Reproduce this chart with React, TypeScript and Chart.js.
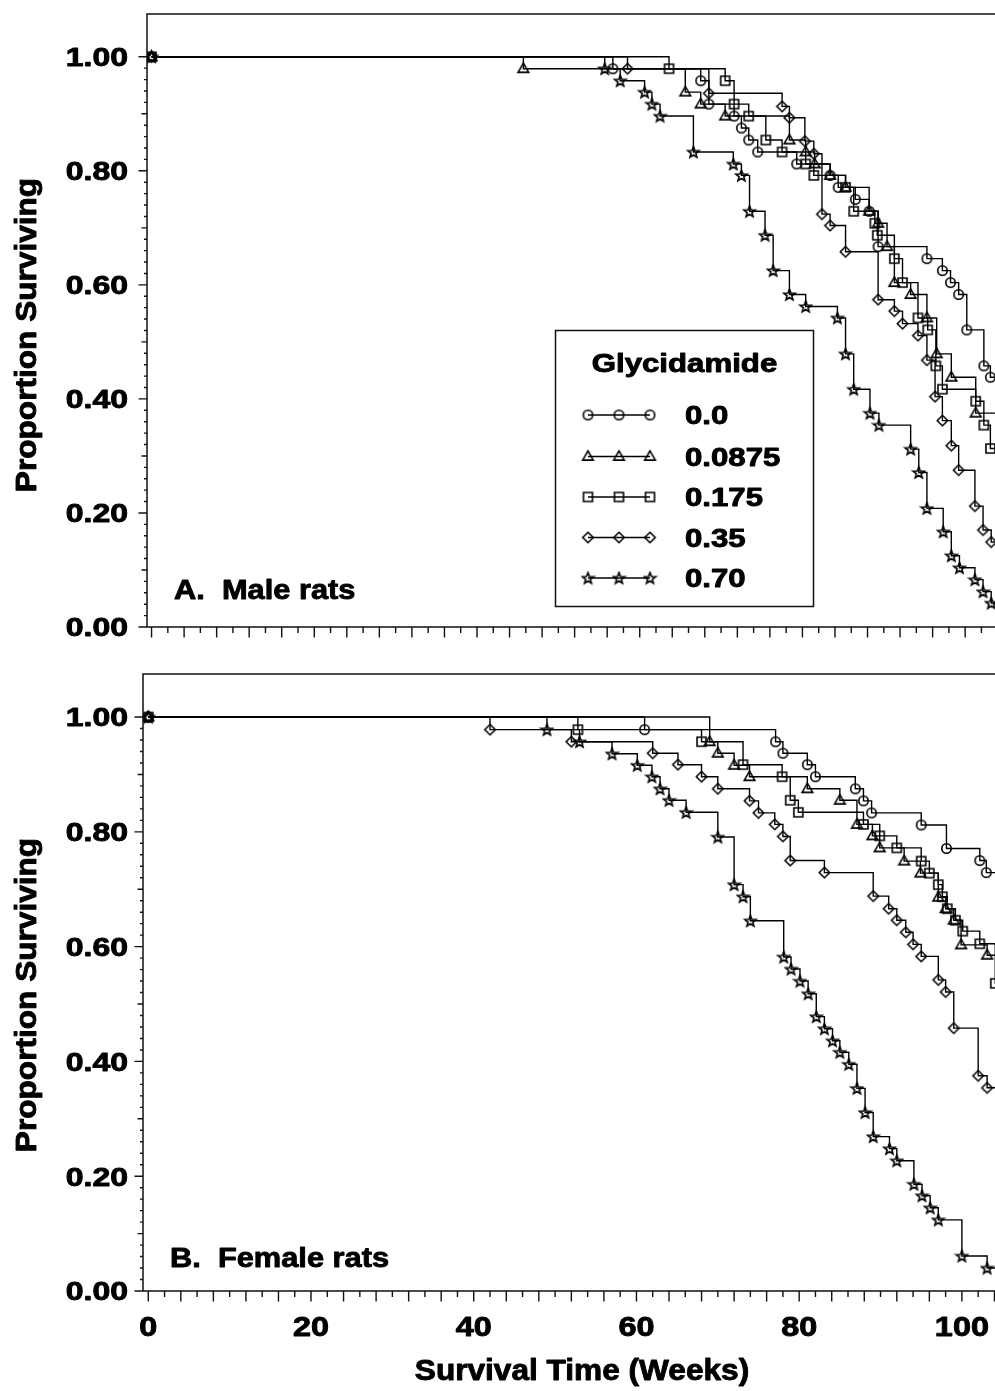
import React, { useEffect, useRef } from 'react';
import { Chart, registerables } from 'chart.js';

Chart.register(...registerables);

// ---------------- data ----------------
const xTickValues = [0, 20, 40, 60, 80, 100];
const yTickValues = [0, 0.2, 0.4, 0.6, 0.8, 1.0];
const doseLabels = ['0.0', '0.0875', '0.175', '0.35', '0.70'];
const markerKinds = ['circle', 'triangle', 'square', 'diamond', 'star'];
const legendTitle = 'Glycidamide';
const xAxisTitle = 'Survival Time (Weeks)';
const yAxisTitle = 'Proportion Surviving';
const maleLabel = 'A.  Male rats';
const femaleLabel = 'B.  Female rats';
const studyEnd = 106.5;

// Male rats (panel A)
const maleT_00 = [0, 56.7, 67.5, 68.5, 71.6, 72.5, 73.4, 74.5, 79.3, 83.4, 84.4, 86.5, 88.2, 89.3, 95.3, 97.2, 98.2, 99.2, 100.2, 102.3, 103.1];
const maleS_00 = [1, 0.979, 0.958, 0.917, 0.896, 0.875, 0.854, 0.833, 0.812, 0.792, 0.771, 0.75, 0.729, 0.667, 0.646, 0.625, 0.604, 0.583, 0.521, 0.458, 0.438];

const maleT_0875 = [0, 45.7, 65.6, 67.5, 70.5, 78.4, 80.4, 81.5, 83.4, 85.3, 88.2, 89.3, 90.4, 91.3, 93.3, 95.3, 96.5, 98.3, 101.3];
const maleS_0875 = [1, 0.979, 0.938, 0.917, 0.896, 0.854, 0.833, 0.812, 0.792, 0.771, 0.729, 0.708, 0.667, 0.604, 0.583, 0.542, 0.479, 0.438, 0.375];

const maleT_175 = [0, 63.6, 70.5, 71.6, 73.4, 75.5, 77.5, 80.4, 81.4, 85.3, 86.3, 88.9, 89.2, 91.3, 92.3, 94.2, 95.4, 96.4, 97.2, 101.3, 102.3, 103.1];
const maleS_175 = [1, 0.979, 0.958, 0.917, 0.896, 0.854, 0.833, 0.812, 0.792, 0.771, 0.729, 0.708, 0.687, 0.646, 0.604, 0.542, 0.521, 0.458, 0.417, 0.396, 0.354, 0.313];

const maleT_35 = [0, 58.5, 68.5, 77.5, 78.4, 80.3, 81.4, 82.4, 83.4, 85.3, 89.3, 91.3, 92.3, 94.2, 95.3, 96.3, 97.2, 98.3, 99.2, 101.2, 102.2, 103.2];
const maleS_35 = [1, 0.979, 0.936, 0.913, 0.893, 0.852, 0.83, 0.724, 0.704, 0.658, 0.574, 0.554, 0.532, 0.511, 0.468, 0.404, 0.362, 0.318, 0.275, 0.212, 0.17, 0.149];

const maleT_70 = [0, 55.7, 57.6, 60.6, 61.5, 62.5, 66.6, 71.5, 72.5, 73.5, 75.4, 76.4, 78.4, 80.4, 84.3, 85.3, 86.3, 88.3, 89.4, 93.3, 94.3, 95.3, 97.3, 98.3, 99.3, 101.2, 102.2, 103.2];
const maleS_70 = [1, 0.979, 0.958, 0.938, 0.917, 0.896, 0.833, 0.812, 0.792, 0.729, 0.687, 0.625, 0.583, 0.562, 0.542, 0.479, 0.417, 0.375, 0.354, 0.312, 0.271, 0.208, 0.167, 0.125, 0.104, 0.083, 0.062, 0.042];

// Female rats (panel B)
const femT_00 = [0, 61.0, 77.1, 78.0, 81.0, 82.0, 86.9, 87.9, 88.9, 95.0, 98.1, 102.2, 103.0];
const femS_00 = [1, 0.978, 0.957, 0.937, 0.917, 0.896, 0.875, 0.854, 0.833, 0.812, 0.771, 0.75, 0.729];

const femT_0875 = [0, 69.0, 70.0, 72.0, 73.9, 81.0, 85.0, 87.1, 89.0, 89.9, 92.9, 94.9, 97.1, 98.0, 99.0, 99.9, 103.1];
const femS_0875 = [1, 0.957, 0.937, 0.916, 0.896, 0.875, 0.855, 0.813, 0.793, 0.772, 0.749, 0.728, 0.686, 0.666, 0.646, 0.603, 0.585];

const femT_175 = [0, 52.8, 68.0, 73.1, 77.9, 78.9, 79.9, 87.9, 89.9, 92.0, 95.0, 96.0, 97.1, 97.6, 98.2, 99.2, 100.1, 102.2, 104.1];
const femS_175 = [1, 0.978, 0.957, 0.917, 0.896, 0.855, 0.834, 0.813, 0.793, 0.772, 0.749, 0.728, 0.708, 0.687, 0.666, 0.646, 0.627, 0.605, 0.536];

const femT_35 = [0, 42.0, 52.0, 62.0, 65.1, 68.0, 70.0, 73.9, 75.0, 77.0, 78.0, 78.9, 83.1, 89.1, 91.0, 92.0, 93.1, 94.0, 95.0, 97.1, 98.0, 99.0, 102.0, 103.1];
const femS_35 = [1, 0.978, 0.957, 0.937, 0.917, 0.896, 0.875, 0.854, 0.833, 0.813, 0.792, 0.75, 0.729, 0.688, 0.666, 0.646, 0.625, 0.604, 0.583, 0.542, 0.521, 0.458, 0.375, 0.354];

const femT_70 = [0, 49.0, 53.0, 57.0, 60.1, 61.9, 62.9, 64.0, 66.1, 70.0, 72.0, 73.1, 74.0, 78.1, 79.0, 80.1, 81.1, 82.1, 83.1, 84.1, 85.0, 86.1, 87.1, 88.1, 89.1, 91.1, 92.0, 94.1, 95.1, 96.1, 97.1, 100.0, 103.1];
const femS_70 = [1, 0.978, 0.957, 0.936, 0.916, 0.896, 0.875, 0.855, 0.834, 0.791, 0.708, 0.687, 0.645, 0.582, 0.561, 0.54, 0.518, 0.478, 0.457, 0.436, 0.416, 0.395, 0.353, 0.311, 0.269, 0.248, 0.227, 0.186, 0.166, 0.145, 0.124, 0.061, 0.04];

const maleTimes = [maleT_00, maleT_0875, maleT_175, maleT_35, maleT_70];
const maleSurv = [maleS_00, maleS_0875, maleS_175, maleS_35, maleS_70];
const femTimes = [femT_00, femT_0875, femT_175, femT_35, femT_70];
const femSurv = [femS_00, femS_0875, femS_175, femS_35, femS_70];

// ---------------- drawing helpers ----------------
const FONT = '"Liberation Sans", Arial, Helvetica, sans-serif';

function makeMarker(kind: string): HTMLCanvasElement {
  const c = document.createElement('canvas');
  c.width = 15;
  c.height = 15;
  const g = c.getContext('2d') as CanvasRenderingContext2D;
  g.strokeStyle = '#000';
  g.lineWidth = 1.6;
  const cx = 7.5;
  const cy = 7.5;
  g.beginPath();
  if (kind === 'circle') {
    g.arc(cx, cy, 4.7, 0, Math.PI * 2);
  } else if (kind === 'triangle') {
    g.moveTo(cx, cy - 5.6);
    g.lineTo(cx + 5.3, cy + 3.6);
    g.lineTo(cx - 5.3, cy + 3.6);
    g.closePath();
  } else if (kind === 'square') {
    g.rect(cx - 4.5, cy - 4.5, 9, 9);
  } else if (kind === 'diamond') {
    g.moveTo(cx, cy - 5.2);
    g.lineTo(cx + 5.2, cy);
    g.lineTo(cx, cy + 5.2);
    g.lineTo(cx - 5.2, cy);
    g.closePath();
  } else {
    for (let i = 0; i < 10; i++) {
      const r = i % 2 === 0 ? 5.9 : 2.5;
      const a = -Math.PI / 2 + (i * Math.PI) / 5;
      const px = cx + r * Math.cos(a);
      const py = cy + 0.5 + r * Math.sin(a);
      if (i === 0) g.moveTo(px, py);
      else g.lineTo(px, py);
    }
    g.closePath();
  }
  g.stroke();
  return c;
}

function txt(
  ctx: CanvasRenderingContext2D,
  s: string,
  x: number,
  y: number,
  size: number,
  sx: number,
  align: CanvasTextAlign,
  rot = 0
) {
  ctx.save();
  ctx.translate(x, y);
  if (rot) ctx.rotate(rot);
  ctx.scale(sx, 1);
  ctx.font = `bold ${size}px ${FONT}`;
  ctx.fillStyle = '#000';
  ctx.strokeStyle = '#000';
  ctx.lineWidth = 0.9;
  ctx.lineJoin = 'round';
  ctx.textAlign = align;
  ctx.textBaseline = 'alphabetic';
  ctx.fillText(s, 0, 0);
  ctx.strokeText(s, 0, 0);
  ctx.restore();
}

function makeDecor(isTop: boolean, markers: HTMLCanvasElement[]) {
  return {
    id: 'decor' + (isTop ? 'Top' : 'Bottom'),
    afterDraw(chart: any) {
      const ctx: CanvasRenderingContext2D = chart.ctx;
      const { left: L, right: R, top: T, bottom: B } = chart.chartArea;
      const xs = chart.scales.x;
      const ys = chart.scales.y;
      ctx.save();
      ctx.strokeStyle = '#111';
      ctx.lineWidth = 1.5;
      // frame
      ctx.beginPath();
      ctx.moveTo(L, B);
      ctx.lineTo(L, T);
      ctx.lineTo(R, T);
      ctx.lineTo(R, B);
      ctx.lineTo(L, B);
      ctx.stroke();
      // x ticks (every 2 weeks, longer every 4)
      ctx.lineWidth = 1.4;
      ctx.beginPath();
      for (let w = 0; w <= xs.max; w += 2) {
        const px = xs.getPixelForValue(w);
        if (px > R) break;
        const len = w % 4 === 0 ? 10.5 : 6;
        ctx.moveTo(px, B);
        ctx.lineTo(px, B + len);
      }
      // y ticks (every 0.02)
      for (let i = 0; i <= 50; i++) {
        const py = ys.getPixelForValue(i / 50);
        const len = i % 10 === 0 ? 8.5 : i % 5 === 0 ? 5.5 : 3;
        ctx.moveTo(L, py);
        ctx.lineTo(L - len, py);
      }
      ctx.stroke();
      ctx.restore();

      // y tick labels
      yTickValues.forEach((v) => {
        const py = ys.getPixelForValue(v);
        txt(ctx, v.toFixed(2), 128, py + 9.3, 26, 1.23, 'right');
      });
      // y axis title
      txt(ctx, yAxisTitle, 35.8, 335, 29, 1.09, 'center', -Math.PI / 2);

      if (isTop) {
        txt(ctx, maleLabel, 174, 598.5, 28, 1.1, 'left');
        // legend
        ctx.save();
        ctx.fillStyle = '#fff';
        ctx.fillRect(555.5, 330.5, 258, 276);
        ctx.strokeStyle = '#111';
        ctx.lineWidth = 1.5;
        ctx.strokeRect(555.5, 330.5, 258, 276);
        ctx.restore();
        txt(ctx, legendTitle, 684.5, 372, 26, 1.2, 'center');
        const centers = [415, 456.5, 497, 537.5, 578];
        doseLabels.forEach((lab, i) => {
          const cy = centers[i];
          ctx.save();
          ctx.strokeStyle = '#000';
          ctx.lineWidth = 1.4;
          ctx.beginPath();
          ctx.moveTo(588, cy);
          ctx.lineTo(650, cy);
          ctx.stroke();
          [588, 619, 650].forEach((mx) => ctx.drawImage(markers[i], mx - 7.5, cy - 7.5));
          ctx.restore();
          txt(ctx, lab, 685, cy + 9.3, 26, 1.2, 'left');
        });
      } else {
        txt(ctx, femaleLabel, 170, 606.7, 28, 1.1, 'left');
        xTickValues.forEach((v) => {
          const px = xs.getPixelForValue(v);
          txt(ctx, String(v), px, B + 44.7, 27, 1.2, 'center');
        });
        txt(ctx, xAxisTitle, 582, 720, 29, 1.09, 'center');
      }
    },
  };
}

function buildConfig(isTop: boolean, markers: HTMLCanvasElement[]): any {
  const times = isTop ? maleTimes : femTimes;
  const surv = isTop ? maleSurv : femSurv;
  const datasets = times.map((ts, k) => {
    const ss = surv[k];
    const data = ts.map((t, i) => ({ x: t, y: ss[i] }));
    data.push({ x: studyEnd, y: ss[ss.length - 1] });
    const n = ts.length;
    return {
      label: doseLabels[k],
      data,
      stepped: 'before',
      borderColor: '#000',
      borderWidth: 1.4,
      fill: false,
      tension: 0,
      pointStyle: markers[k],
      pointRadius: (c: any) => (c.dataIndex < n ? 5 : 0),
      pointHoverRadius: 0,
      pointBorderColor: '#000',
      pointBackgroundColor: 'rgba(0,0,0,0)',
    };
  });
  return {
    type: 'line',
    data: { datasets },
    options: {
      animation: false,
      responsive: false,
      devicePixelRatio: 1,
      events: [],
      layout: { padding: { top: 14, right: 2, bottom: 0, left: 0 } },
      plugins: { legend: { display: false }, tooltip: { enabled: false } },
      scales: {
        x: {
          type: 'linear',
          min: isTop ? -0.56 : -0.65,
          max: isTop ? 106.2 : 106.6,
          grid: { display: false },
          border: { display: false },
          ticks: { display: false },
          afterFit: (s: any) => {
            s.height = isTop ? 33 : 100;
          },
        },
        y: {
          type: 'linear',
          min: 0,
          max: 1.075,
          grid: { display: false },
          border: { display: false },
          ticks: { display: false, includeBounds: false, stepSize: 0.2 },
          afterFit: (s: any) => {
            s.width = isTop ? 147 : 143;
          },
        },
      },
    },
    plugins: [makeDecor(isTop, markers)],
  };
}

export default function App() {
  const topRef = useRef<HTMLCanvasElement>(null);
  const botRef = useRef<HTMLCanvasElement>(null);

  useEffect(() => {
    const markers = markerKinds.map(makeMarker);
    const top = new Chart(topRef.current as HTMLCanvasElement, buildConfig(true, markers));
    const bot = new Chart(botRef.current as HTMLCanvasElement, buildConfig(false, markers));
    return () => {
      top.destroy();
      bot.destroy();
    };
  }, []);

  return (
    <div
      style={{
        position: 'absolute',
        left: 0,
        top: 0,
        width: 995,
        height: 1391,
        overflow: 'hidden',
        background: '#fff',
      }}
    >
      <canvas
        ref={topRef}
        width={1022}
        height={660}
        style={{ position: 'absolute', left: 0, top: 0, width: 1022, height: 660 }}
      />
      <canvas
        ref={botRef}
        width={1022}
        height={731}
        style={{ position: 'absolute', left: 0, top: 660, width: 1022, height: 731 }}
      />
    </div>
  );
}
